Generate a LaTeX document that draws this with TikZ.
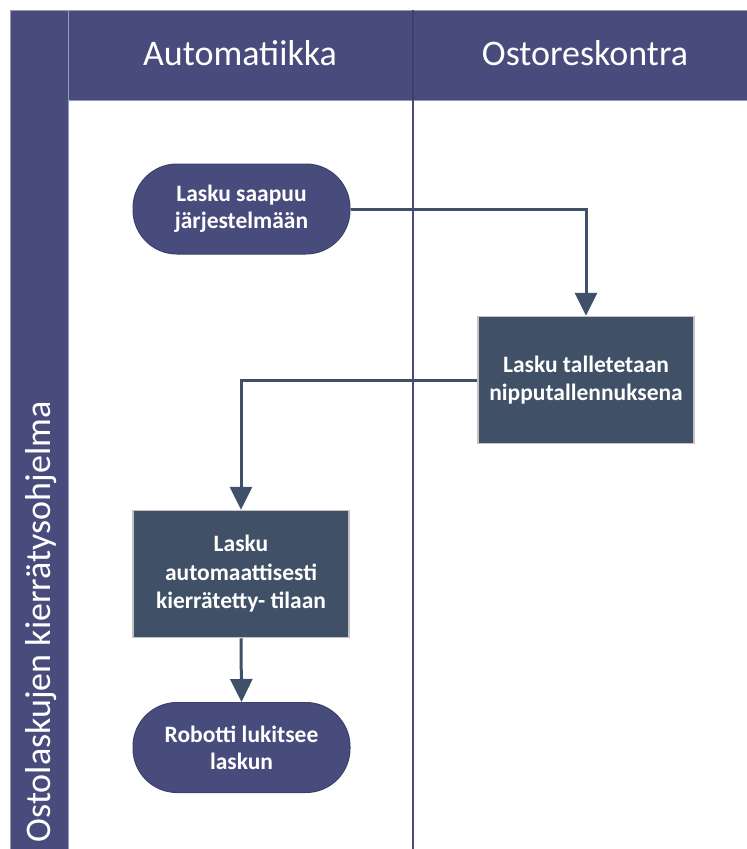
\documentclass[tikz,border=0pt]{standalone}
\usepackage{fontspec}
\setmainfont{Carlito}
\usetikzlibrary{arrows.meta}
\definecolor{hdr}{RGB}{72,76,124}
\definecolor{hdrline}{RGB}{60,64,108}
\definecolor{procfill}{RGB}{64,80,102}
\definecolor{connclr}{RGB}{63,80,104}
\definecolor{boxedge}{RGB}{195,195,195}
\definecolor{bandedge}{RGB}{150,154,190}
\begin{document}
\begin{tikzpicture}[x=1pt,y=-1pt,
  termbox/.style={draw=hdrline, line width=1pt, fill=hdr, rounded corners=44pt,
    minimum width=217pt, minimum height=90pt, inner sep=0pt, text=white, align=center,
    font=\fontsize{23.5}{27}\selectfont\bfseries},
  procbox/.style={draw=boxedge, line width=1.5pt, fill=procfill,
    minimum width=216pt, minimum height=127pt, inner sep=0pt, text=white, align=center,
    font=\fontsize{23.5}{28.5}\selectfont\bfseries},
  connline/.style={draw=connclr, line width=3pt, -{Triangle[width=22pt,length=23pt]}},
  headtext/.style={anchor=base, text=white, font=\fontsize{36}{40}\selectfont},
  band/.style={fill=hdr, draw=bandedge, line width=1pt}]
\useasboundingbox (0,0) rectangle (747,849);
\fill[white] (0,0) rectangle (747,849);
% pool band and header
\draw[band] (10,10) rectangle (68,851);
\draw[band] (68,10) rectangle (749,100);
\draw[hdrline, line width=2pt] (413,10) -- (413,100);
% lane divider
\draw[hdr, line width=2.5pt] (413,100) -- (413,851);
% labels
\node[rotate=90, anchor=base, text=white, font=\fontsize{36}{40}\selectfont] (pool) at (50,622) {Ostolaskujen kierrätysohjelma};
\node[headtext] (h1) at (240,65) {Automatiikka};
\node[headtext] (h2) at (585,65) {Ostoreskontra};
% nodes
\node[termbox] (t1) at (241.5,209) {Lasku saapuu\\järjestelmään};
\node[procbox] (p1) at (586,380) {Lasku talletetaan\\nipputallennuksena};
\node[procbox] (p2) at (241,574) {Lasku\\automaattisesti\\kierrätetty- tilaan};
\node[termbox] (t2) at (241.5,747.5) {Robotti lukitsee\\laskun};
% connectors
\draw[connline] (t1.east) -| (p1.north);
\draw[connline] (p1.west) -| (p2.north);
\draw[connline] (p2.south) -- (t2.north);
\end{tikzpicture}
\end{document}
